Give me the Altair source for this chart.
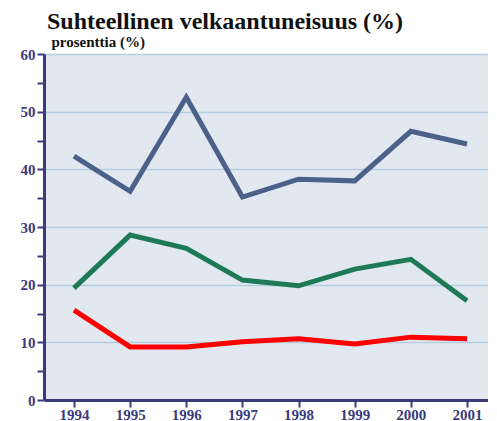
import altair as alt
import pandas as pd

years = [1994, 1995, 1996, 1997, 1998, 1999, 2000, 2001]
series_a = [42.3, 36.2, 52.5, 35.2, 38.3, 38.0, 46.6, 44.4]
series_b = [19.4, 28.6, 26.3, 20.8, 19.8, 22.7, 24.4, 17.2]
series_c = [15.6, 9.2, 9.2, 10.1, 10.6, 9.7, 10.9, 10.6]
names = ["A", "B", "C"]
colors = ["#4b6189", "#1e7a56", "#fe0000"]

rows = []
for name, vals in zip(names, [series_a, series_b, series_c]):
    for y, v in zip(years, vals):
        rows.append({"vuosi": y, "arvo": v, "sarja": name})
df = pd.DataFrame(rows)

navy = "#3b3b7c"
font = "'Liberation Serif', 'Times New Roman', Times, serif"

chart = alt.Chart(df).mark_line(strokeWidth=5, strokeCap="butt", strokeJoin="miter").encode(
    x=alt.X("vuosi:Q",
            scale=alt.Scale(domain=[1993.466, 2001.374], nice=False, zero=False),
            axis=alt.Axis(values=years, format="d", title=None, grid=False,
                          domainColor=navy, domainWidth=3, tickColor=navy, tickWidth=2,
                          tickSize=7, labelColor=navy, labelFont=font, labelFontSize=15,
                          labelFontWeight="bold", labelPadding=0)),
    y=alt.Y("arvo:Q",
            scale=alt.Scale(domain=[0, 60], nice=False),
            axis=alt.Axis(values=list(range(0, 61, 5)),
                          labelExpr="datum.value % 10 == 0 ? datum.label : ''",
                          grid=True, gridColor="#b4cde0", gridWidth=1.5,
                          gridOpacity=alt.condition("datum.value % 10 == 0 && datum.value > 0", alt.value(1), alt.value(0)),
                          domainColor=navy, domainWidth=3, tickColor=navy, tickWidth=2,
                          tickSize=7, labelColor=navy, labelFont=font, labelFontSize=15,
                          labelFontWeight="bold", labelPadding=2,
                          title="prosenttia (%)", titleAngle=0, titleAlign="left",
                          titleBaseline="bottom", titleX=7, titleY=-5,
                          titleFont=font, titleFontSize=15, titleFontWeight="bold",
                          titleColor="#111111")),
    color=alt.Color("sarja:N", scale=alt.Scale(domain=names, range=colors), legend=None),
).properties(
    width=444, height=346,
    title=alt.TitleParams("Suhteellinen velkaantuneisuus (%)", anchor="start", frame="group",
                          font=font, fontSize=24, fontWeight="bold", color="#111111",
                          offset=0, dx=3),
    padding={"left": 12, "top": 2, "right": 0, "bottom": 0},
).configure_view(fill="#e1e8f0", stroke=None)

chart.save("out.html", embed_options={"renderer": "svg", "actions": False})
